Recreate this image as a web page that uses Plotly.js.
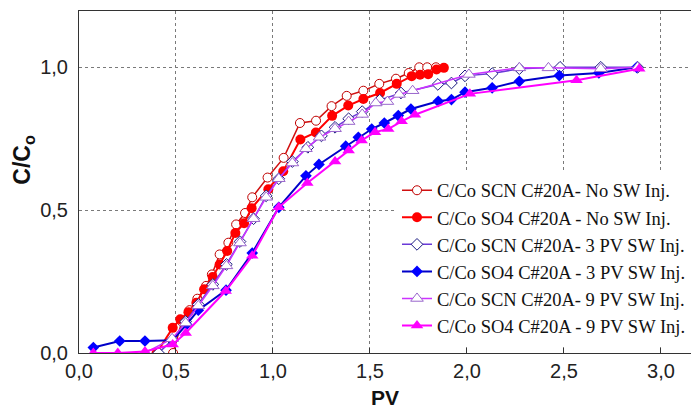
<!DOCTYPE html>
<html>
<head>
<meta charset="utf-8">
<script src="https://cdn.plot.ly/plotly-3.0.1.min.js"></script>
<style>html,body{margin:0;padding:0;background:#fff;}#chart{width:691px;height:418px;}</style>
</head>
<body>
<div id="chart"></div>
<script>
// Series names
const seriesNames = [
  "C/Co SCN C#20A- No SW Inj.",
  "C/Co SO4 C#20A - No SW Inj.",
  "C/Co SCN C#20A- 3 PV SW Inj.",
  "C/Co SO4 C#20A - 3 PV SW Inj.",
  "C/Co SCN C#20A- 9 PV SW Inj.",
  "C/Co SO4 C#20A - 9 PV SW Inj."
];

// SCN, no seawater injection
const scnNoX = [0.485, 0.53, 0.57, 0.61, 0.655, 0.685, 0.725, 0.77, 0.81, 0.856, 0.893, 0.972, 1.055, 1.139, 1.222, 1.302, 1.38, 1.466, 1.548, 1.634, 1.70, 1.754, 1.795, 1.84];
const scnNoY = [0.0, 0.11, 0.15, 0.19, 0.235, 0.275, 0.345, 0.386, 0.45, 0.49, 0.545, 0.614, 0.683, 0.805, 0.813, 0.864, 0.90, 0.918, 0.942, 0.96, 0.98, 1.0, 1.0, 1.0];

// SO4, no seawater injection
const so4NoX = [0.40, 0.483, 0.522, 0.564, 0.605, 0.645, 0.689, 0.725, 0.764, 0.806, 0.851, 0.89, 0.976, 1.053, 1.141, 1.221, 1.305, 1.388, 1.466, 1.552, 1.638, 1.715, 1.758, 1.80, 1.843, 1.881];
const so4NoY = [0.0, 0.088, 0.118, 0.143, 0.176, 0.223, 0.266, 0.31, 0.357, 0.42, 0.454, 0.507, 0.573, 0.636, 0.747, 0.772, 0.83, 0.866, 0.889, 0.91, 0.942, 0.969, 0.974, 0.976, 0.992, 0.998];

// SCN, 3 PV seawater injection
const scn3X = [0.41, 0.48, 0.55, 0.615, 0.69, 0.76, 0.83, 0.90, 0.965, 1.03, 1.10, 1.18, 1.25, 1.32, 1.39, 1.46, 1.55, 1.66, 1.85, 1.92, 1.99, 2.13, 2.27, 2.48, 2.69, 2.88];
const scn3Y = [0.0, 0.045, 0.11, 0.17, 0.24, 0.31, 0.39, 0.47, 0.55, 0.61, 0.67, 0.72, 0.76, 0.79, 0.82, 0.845, 0.885, 0.91, 0.94, 0.945, 0.97, 0.978, 0.995, 1.0, 1.0, 1.0];

// SO4, 3 PV seawater injection
const so43X = [0.074, 0.21, 0.34, 0.483, 0.555, 0.615, 0.758, 0.893, 1.03, 1.17, 1.237, 1.375, 1.44, 1.509, 1.574, 1.646, 1.711, 1.852, 1.92, 1.99, 2.13, 2.27, 2.476, 2.68, 2.875];
const so43Y = [0.019, 0.042, 0.042, 0.045, 0.10, 0.15, 0.22, 0.35, 0.51, 0.62, 0.66, 0.724, 0.755, 0.784, 0.805, 0.831, 0.854, 0.881, 0.887, 0.913, 0.928, 0.951, 0.971, 0.98, 1.0];

// SCN, 9 PV seawater injection
const scn9X = [0.34, 0.48, 0.55, 0.615, 0.69, 0.76, 0.83, 0.90, 0.965, 1.03, 1.10, 1.17, 1.24, 1.32, 1.39, 1.46, 1.53, 1.59, 1.65, 1.72, 2.01, 2.27, 2.42, 2.69, 2.88];
const scn9Y = [0.0, 0.05, 0.105, 0.165, 0.235, 0.305, 0.385, 0.47, 0.545, 0.61, 0.665, 0.715, 0.755, 0.785, 0.81, 0.835, 0.875, 0.88, 0.905, 0.918, 0.975, 0.998, 0.998, 0.995, 1.0];

// SO4, 9 PV seawater injection
const so49X = [0.074, 0.20, 0.34, 0.483, 0.55, 0.756, 0.893, 1.03, 1.177, 1.32, 1.39, 1.457, 1.526, 1.594, 1.663, 1.732, 2.015, 2.565, 2.888];
const so49Y = [0.0, 0.0, 0.005, 0.03, 0.07, 0.217, 0.34, 0.51, 0.595, 0.67, 0.709, 0.744, 0.773, 0.784, 0.811, 0.834, 0.907, 0.955, 0.995];

const xTickVals = [0, 0.5, 1, 1.5, 2, 2.5, 3];
const yTickVals = [0, 0.5, 1];

const traces = [
  {x: scnNoX, y: scnNoY, name: seriesNames[0], mode: "lines+markers",
   line: {color: "#d01010", width: 1.5},
   marker: {symbol: "circle", size: 9, color: "#ffffff", line: {color: "#c00000", width: 1}}},
  {x: so4NoX, y: so4NoY, name: seriesNames[1], mode: "lines+markers",
   line: {color: "#ff0000", width: 2},
   marker: {symbol: "circle", size: 10, color: "#ff0000", line: {width: 0}}},
  {x: scn3X, y: scn3Y, name: seriesNames[2], mode: "lines+markers",
   line: {color: "#6a3ad8", width: 1.5},
   marker: {symbol: "diamond", size: 9, color: "#ffffff", line: {color: "#1a1a80", width: 1}}},
  {x: so43X, y: so43Y, name: seriesNames[3], mode: "lines+markers",
   line: {color: "#0000c8", width: 2},
   marker: {symbol: "diamond", size: 9, color: "#0000ff", line: {width: 0}}},
  {x: scn9X, y: scn9Y, name: seriesNames[4], mode: "lines+markers",
   line: {color: "#cc33ff", width: 1.5},
   marker: {symbol: "triangle-up", size: 11, color: "#ffffff", line: {color: "#9966cc", width: 1}}},
  {x: so49X, y: so49Y, name: seriesNames[5], mode: "lines+markers",
   line: {color: "#ff00ff", width: 2},
   marker: {symbol: "triangle-up", size: 11, color: "#ff00ff", line: {width: 0}}}
];

const layout = {
  width: 691, height: 418,
  margin: {l: 79, r: 0, t: 11, b: 65, pad: 0},
  paper_bgcolor: "#ffffff", plot_bgcolor: "#ffffff",
  separators: ",.",
  showlegend: true,
  font: {family: "Liberation Sans, Arial, sans-serif", color: "#1a1a1a"},
  xaxis: {
    range: [0, 3.155], tickvals: xTickVals, tickformat: ".1f",
    showgrid: true, gridcolor: "#7a7a7a", griddash: "dot", gridwidth: 1,
    zeroline: false, showline: true, linecolor: "#333333", linewidth: 1, mirror: true,
    ticks: "inside", ticklen: 5, tickcolor: "#333333",
    tickfont: {size: 20, family: "Liberation Sans, Arial, sans-serif", color: "#222222"},
    title: {text: "<b>PV</b>", font: {size: 21, family: "Liberation Sans, Arial, sans-serif", color: "#111111"}, standoff: 9}
  },
  yaxis: {
    range: [0, 1.197], tickvals: yTickVals, tickformat: ".1f",
    showgrid: true, gridcolor: "#7a7a7a", griddash: "dot", gridwidth: 1,
    zeroline: false, showline: true, linecolor: "#333333", linewidth: 1, mirror: false,
    ticks: "", ticklabelstandoff: 6,
    tickfont: {size: 20, family: "Liberation Sans, Arial, sans-serif", color: "#222222"}
  },
  legend: {
    x: 1, y: 0.53, xanchor: "right", yanchor: "top",
    bgcolor: "#ffffff", borderwidth: 0,
    font: {family: "Liberation Serif, Times New Roman, serif", size: 18.5, color: "#111111"},
    itemwidth: 30, tracegroupgap: 0
  },
  annotations: [{
    text: "<b>C/C<sub>o</sub></b>", xref: "paper", yref: "paper",
    x: -0.09, y: 0.565, xanchor: "center", yanchor: "middle", textangle: -90,
    showarrow: false, font: {size: 23, family: "Liberation Sans, Arial, sans-serif", color: "#111111"}
  }]
};

Plotly.newPlot("chart", traces, layout, {displayModeBar: false, staticPlot: true});
</script>
</body>
</html>
